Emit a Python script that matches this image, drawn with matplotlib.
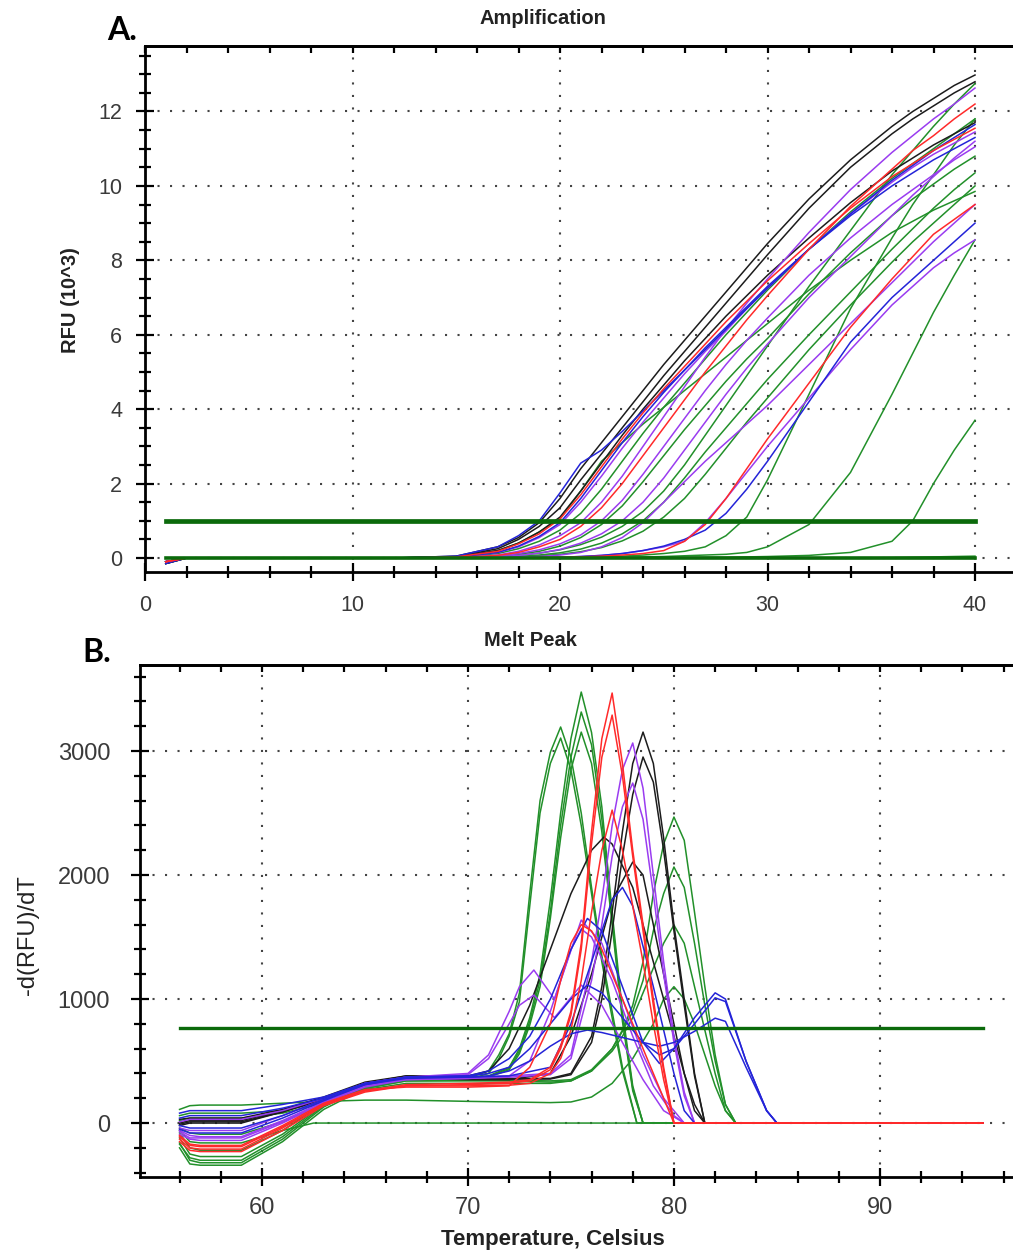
import matplotlib.pyplot as plt
from matplotlib.ticker import MultipleLocator

# ---------------- amplification (panel A) ----------------
amp_cycles = [1, 2, 12, 15, 17, 18, 19, 20, 21, 22, 23, 24, 25, 26, 27, 28, 29, 30, 32, 34, 36, 37, 38, 39, 40]

amp_black = [
    [-0.15, 0, 0, 0.05, 0.3, 0.55, 0.95, 1.6, 2.4, 3.1, 3.8, 4.5, 5.2, 5.85, 6.5, 7.15, 7.8, 8.45, 9.65, 10.7, 11.6, 12.0, 12.35, 12.7, 12.98],
    [-0.15, 0, 0, 0.04, 0.25, 0.5, 0.85, 1.35, 2.1, 2.8, 3.5, 4.2, 4.9, 5.55, 6.2, 6.85, 7.5, 8.15, 9.4, 10.5, 11.4, 11.8, 12.15, 12.5, 12.8],
    [-0.1, 0, 0, 0.03, 0.2, 0.4, 0.7, 1.1, 1.8, 2.55, 3.3, 4.0, 4.65, 5.3, 5.9, 6.5, 7.05, 7.6, 8.6, 9.55, 10.4, 10.75, 11.1, 11.4, 11.7],
]
amp_blue = [
    [-0.15, 0, 0, 0.05, 0.3, 0.6, 1.0, 1.75, 2.55, 2.9, 3.4, 3.95, 4.5, 5.05, 5.6, 6.15, 6.7, 7.25, 8.3, 9.25, 10.15, 10.55, 10.95, 11.3, 11.65],
    [-0.1, 0, 0, 0.02, 0.15, 0.32, 0.58, 0.95, 1.6, 2.35, 3.1, 3.8, 4.45, 5.05, 5.65, 6.2, 6.75, 7.3, 8.3, 9.2, 10.0, 10.35, 10.7, 11.0, 11.3],
    [-0.1, 0, 0, 0, 0, 0, 0.01, 0.02, 0.04, 0.07, 0.12, 0.2, 0.32, 0.5, 0.75, 1.2, 1.85, 2.6, 4.2, 5.8, 7.0, 7.5, 8.0, 8.5, 9.0],
]
amp_purple = [
    [-0.1, 0, 0, 0.02, 0.15, 0.3, 0.55, 0.9, 1.5, 2.2, 2.95, 3.65, 4.3, 4.95, 5.55, 6.1, 6.7, 7.25, 8.3, 9.25, 10.1, 10.5, 10.85, 11.15, 11.45],
    [-0.1, 0, 0, 0.01, 0.08, 0.18, 0.35, 0.6, 0.95, 1.5, 2.2, 3.0, 3.8, 4.6, 5.4, 6.15, 6.85, 7.5, 8.75, 9.9, 10.9, 11.35, 11.8, 12.2, 12.63],
    [-0.1, 0, 0, 0, 0.05, 0.12, 0.22, 0.38, 0.62, 1.0, 1.55, 2.25, 3.0, 3.75, 4.5, 5.2, 5.85, 6.45, 7.6, 8.6, 9.5, 9.9, 10.3, 10.7, 11.05],
    [-0.1, 0, 0, 0, 0.03, 0.07, 0.13, 0.23, 0.4, 0.65, 1.0, 1.5, 2.15, 2.9, 3.65, 4.4, 5.1, 5.75, 7.0, 8.1, 9.2, 9.75, 10.25, 10.75, 11.2],
    [-0.1, 0, 0, 0, 0.01, 0.02, 0.04, 0.08, 0.15, 0.3, 0.55, 0.95, 1.5, 2.05, 2.6, 3.1, 3.6, 4.1, 5.2, 6.3, 7.4, 7.95, 8.5, 9.0, 9.5],
    [-0.1, 0, 0, 0, 0, 0, 0.01, 0.02, 0.04, 0.07, 0.12, 0.2, 0.3, 0.45, 0.95, 1.6, 2.3, 3.0, 4.3, 5.6, 6.8, 7.3, 7.8, 8.2, 8.55],
]
amp_red = [
    [-0.1, 0, 0, 0.03, 0.18, 0.38, 0.65, 1.05, 1.7, 2.45, 3.2, 3.9, 4.55, 5.15, 5.75, 6.35, 6.9, 7.45, 8.45, 9.4, 10.25, 10.6, 10.95, 11.25, 11.55],
    [-0.1, 0, 0, 0.01, 0.07, 0.15, 0.3, 0.5, 0.85, 1.35, 2.0, 2.75, 3.5, 4.25, 5.0, 5.7, 6.4, 7.05, 8.3, 9.45, 10.45, 10.95, 11.35, 11.8, 12.2],
    [-0.1, 0, 0, 0, 0, 0, 0.01, 0.02, 0.03, 0.05, 0.08, 0.12, 0.2, 0.45, 0.9, 1.6, 2.4, 3.2, 4.7, 6.2, 7.5, 8.1, 8.7, 9.1, 9.5],
]
amp_green = [
    [-0.1, 0, 0, 0.03, 0.2, 0.4, 0.7, 1.05, 1.8, 2.6, 3.1, 3.6, 4.05, 4.5, 4.95, 5.4, 5.85, 6.3, 7.2, 8.0, 8.75, 9.05, 9.35, 9.6, 9.85],
    [-0.1, 0, 0, 0.02, 0.12, 0.25, 0.45, 0.75, 1.2, 1.85, 2.6, 3.35, 4.05, 4.7, 5.35, 6.0, 6.6, 7.2, 8.3, 9.3, 10.2, 10.6, 11.0, 11.4, 11.8],
    [-0.1, 0, 0, 0, 0.04, 0.1, 0.18, 0.32, 0.55, 0.9, 1.4, 2.05, 2.75, 3.45, 4.1, 4.75, 5.35, 5.9, 7.1, 8.2, 9.2, 9.65, 10.05, 10.45, 10.8],
    [-0.1, 0, 0, 0, 0.03, 0.07, 0.13, 0.22, 0.36, 0.56, 0.85, 1.25, 1.8, 2.5, 3.3, 4.1, 4.9, 5.7, 7.3, 8.8, 10.3, 10.95, 11.6, 12.2, 12.75],
    [-0.1, 0, 0, 0, 0.02, 0.04, 0.08, 0.14, 0.24, 0.4, 0.65, 1.0, 1.5, 2.15, 2.85, 3.5, 4.15, 4.8, 6.0, 7.15, 8.3, 8.85, 9.4, 9.9, 10.35],
    [-0.1, 0, 0, 0, 0.01, 0.03, 0.06, 0.1, 0.17, 0.28, 0.46, 0.72, 1.1, 1.6, 2.25, 2.95, 3.65, 4.3, 5.6, 6.8, 7.95, 8.5, 9.0, 9.5, 10.0],
    [-0.1, 0, 0, 0, 0, 0, 0, 0.01, 0.02, 0.03, 0.05, 0.08, 0.12, 0.18, 0.3, 0.6, 1.1, 2.1, 4.4, 6.7, 8.6, 9.5, 10.3, 11.1, 11.8],
    [-0.1, 0, 0, 0, 0, 0, 0, 0, 0, 0.01, 0.02, 0.03, 0.04, 0.06, 0.08, 0.1, 0.15, 0.3, 0.9, 2.3, 4.4, 5.5, 6.6, 7.6, 8.55],
    [-0.1, 0, 0, 0, 0, 0, 0, 0, 0, 0, 0, 0, 0.01, 0.01, 0.02, 0.02, 0.03, 0.04, 0.07, 0.15, 0.45, 1.0, 2.0, 2.9, 3.7],
    [-0.15, 0, 0, 0, 0, 0, 0, 0, 0, 0, 0, 0, 0, 0, 0, 0, 0, 0, 0, 0, 0.01, 0.02, 0.03, 0.04, 0.05],
]
amp_threshold = 1.0

# ---------------- melt peak (panel B) ----------------
# each curve: (temperatures, -d(RFU)/dT)
melt_green = [
    ([56, 56.5, 57, 59, 61, 63, 65, 67, 70, 71, 72, 72.5, 73, 73.5, 74, 74.5, 75, 75.5, 76, 76.5, 77, 77.5, 78, 78.5, 95],
     [-120, -250, -270, -270, -90, 150, 300, 360, 360, 380, 450, 600, 850, 1200, 1800, 2500, 3100, 3476, 3150, 2550, 1700, 900, 300, 0, 0]),
    ([56, 56.5, 57, 59, 61, 63, 65, 67, 70, 71, 72, 72.5, 73, 73.5, 74, 74.5, 75, 75.5, 76, 76.5, 77, 77.5, 78, 78.5, 95],
     [-160, -300, -320, -320, -130, 130, 290, 350, 350, 375, 440, 580, 820, 1150, 1700, 2400, 2950, 3315, 3050, 2450, 1650, 850, 280, 0, 0]),
    ([56, 56.5, 57, 59, 61, 63, 65, 67, 70, 71, 72, 72.5, 73, 73.5, 74, 74.5, 75, 75.5, 76, 76.5, 77, 77.5, 78, 78.5, 95],
     [-80, -200, -220, -220, -60, 160, 300, 360, 355, 370, 430, 560, 790, 1100, 1650, 2300, 2850, 3153, 2900, 2350, 1600, 820, 260, 0, 0]),
    ([56, 56.5, 57, 59, 61, 63, 65, 67, 70, 71, 71.5, 72, 72.5, 73, 73.5, 74, 74.5, 75, 75.5, 76, 76.5, 77, 77.5, 78.2, 95],
     [-200, -330, -340, -340, -150, 110, 280, 350, 360, 420, 550, 720, 1050, 1850, 2600, 2990, 3194, 2950, 2500, 1900, 1350, 900, 450, 0, 0]),
    ([56, 56.5, 57, 59, 61, 63, 65, 67, 70, 71, 71.5, 72, 72.5, 73, 73.5, 74, 74.5, 75, 75.5, 76, 76.5, 77, 77.5, 78.2, 95],
     [-170, -280, -300, -300, -110, 140, 290, 350, 350, 400, 520, 700, 980, 1750, 2500, 2900, 3105, 2850, 2400, 1850, 1300, 850, 420, 0, 0]),
    ([56, 56.5, 57, 59, 61, 63, 65, 67, 70, 72, 74, 75, 76, 77, 77.5, 78, 78.5, 79, 79.5, 80, 80.5, 81, 81.5, 82, 82.5, 83, 95],
     [60, 80, 80, 80, 100, 170, 280, 340, 340, 340, 330, 340, 420, 600, 750, 950, 1300, 1850, 2250, 2468, 2280, 1700, 1100, 550, 150, 0, 0]),
    ([56, 56.5, 57, 59, 61, 63, 65, 67, 70, 72, 74, 75, 76, 77, 77.5, 78, 78.5, 79, 79.5, 80, 80.5, 81, 81.5, 82, 82.5, 83, 95],
     [20, 40, 40, 40, 80, 160, 280, 340, 345, 345, 340, 350, 430, 600, 740, 900, 1150, 1550, 1850, 2065, 1900, 1450, 950, 500, 150, 0, 0]),
    ([56, 56.5, 57, 59, 61, 63, 65, 67, 70, 72, 74, 75, 76, 77, 77.5, 78, 78.5, 79, 79.5, 80, 80.5, 81, 81.5, 82, 82.5, 83, 95],
     [-40, -80, -90, -90, 10, 150, 270, 320, 320, 320, 320, 340, 420, 580, 700, 850, 1050, 1250, 1450, 1597, 1450, 1100, 750, 400, 100, 0, 0]),
    ([56, 56.5, 57, 59, 61, 63, 65, 67, 70, 72, 74, 75, 76, 77, 78, 79, 79.5, 80, 80.5, 81, 81.5, 82, 82.5, 83, 95],
     [110, 140, 145, 145, 160, 175, 185, 185, 175, 170, 165, 170, 210, 320, 520, 800, 1000, 1100, 1000, 800, 550, 300, 100, 0, 0]),
    ([56, 56.5, 57, 59, 61, 62.5, 95],
     [-60, -150, -160, -160, -60, 0, 0]),
]
melt_black = [
    ([56, 56.5, 57, 59, 61, 63, 65, 67, 70, 72, 74, 75, 76, 76.5, 77, 77.5, 78, 78.5, 79, 79.5, 80, 80.5, 81, 81.5, 95],
     [0, 20, 20, 20, 100, 200, 320, 380, 370, 360, 360, 400, 700, 1100, 1700, 2350, 2900, 3153, 2900, 2300, 1600, 1000, 400, 0, 0]),
    ([56, 56.5, 57, 59, 61, 63, 65, 67, 70, 72, 74, 75, 76, 76.5, 77, 77.5, 78, 78.5, 79, 79.5, 80, 80.5, 81, 81.5, 95],
     [-20, 0, 0, 0, 90, 200, 320, 370, 360, 355, 355, 390, 650, 1000, 1550, 2150, 2650, 2952, 2750, 2200, 1550, 950, 380, 0, 0]),
    ([56, 56.5, 57, 59, 61, 63, 65, 67, 70, 71, 72, 73, 74, 75, 76, 76.6, 77, 78, 79, 80, 80.5, 81, 81.5, 95],
     [30, 40, 40, 40, 110, 210, 330, 380, 380, 420, 600, 950, 1400, 1850, 2200, 2306, 2250, 1900, 1300, 700, 400, 150, 0, 0]),
    ([56, 56.5, 57, 59, 61, 63, 65, 67, 70, 72, 74, 75, 76, 77, 78, 78.5, 79, 80, 80.5, 81, 81.5, 95],
     [-10, 10, 10, 10, 90, 190, 310, 360, 350, 350, 400, 700, 1200, 1800, 2105, 2000, 1600, 800, 400, 100, 0, 0]),
]
melt_purple = [
    ([56, 56.5, 57, 59, 61, 63, 65, 67, 70, 72, 74, 75, 76, 76.5, 77, 77.5, 78, 78.5, 79, 79.5, 80, 80.5, 81, 95],
     [-60, -100, -110, -110, 20, 170, 300, 360, 370, 380, 400, 550, 1300, 1800, 2400, 2850, 3065, 2700, 2000, 1300, 700, 250, 0, 0]),
    ([56, 56.5, 57, 59, 61, 63, 65, 67, 70, 72, 74, 75, 76, 76.5, 77, 77.5, 78, 78.5, 79, 79.5, 80, 80.5, 81, 95],
     [-90, -130, -140, -140, 0, 160, 290, 350, 360, 370, 390, 520, 1150, 1600, 2150, 2550, 2742, 2450, 1850, 1200, 650, 220, 0, 0]),
    ([56, 56.5, 57, 59, 61, 63, 65, 67, 70, 71, 72, 72.5, 73.2, 74.2, 75.5, 76.5, 77.5, 78.5, 79.5, 80.5, 95],
     [-40, -60, -60, -60, 60, 190, 320, 370, 400, 550, 900, 1100, 1234, 1000, 1637, 1450, 1000, 550, 200, 0, 0]),
    ([56, 56.5, 57, 59, 61, 63, 65, 67, 70, 71, 72, 72.5, 73.2, 74.2, 75.5, 76.5, 77.5, 78.5, 79.5, 80.5, 95],
     [10, 30, 30, 30, 100, 200, 320, 370, 390, 520, 800, 950, 1032, 850, 1113, 950, 650, 350, 100, 0, 0]),
    ([56, 56.5, 57, 59, 61, 63, 65, 67, 70, 72, 73, 74, 75, 75.5, 76, 77, 78, 79, 80, 80.5, 95],
     [-70, -120, -120, -120, 10, 170, 300, 350, 360, 380, 500, 900, 1400, 1565, 1500, 1150, 700, 300, 60, 0, 0]),
]
melt_blue = [
    ([56, 56.5, 57, 59, 61, 63, 65, 67, 70, 71, 72, 73, 74, 75, 75.8, 76.5, 77.5, 78.5, 79.3, 80, 81, 82, 82.5, 83.5, 84.5, 85, 95],
     [-50, -80, -80, -80, 40, 180, 310, 370, 380, 420, 520, 700, 1000, 1400, 1650, 1550, 1100, 650, 480, 600, 850, 1050, 1000, 500, 100, 0, 0]),
    ([56, 56.5, 57, 59, 61, 63, 65, 67, 70, 71, 72, 73, 74, 75, 75.8, 76.5, 77.5, 78.5, 79.3, 80, 81, 82, 82.5, 83.5, 84.5, 85, 95],
     [80, 100, 100, 100, 150, 210, 320, 370, 380, 400, 450, 600, 800, 1000, 1113, 1050, 850, 650, 550, 600, 800, 1010, 980, 500, 100, 0, 0]),
    ([56, 56.5, 57, 59, 61, 63, 65, 67, 70, 71, 72, 73, 74, 75, 75.8, 76.5, 77.5, 78.5, 79.3, 80, 81, 82, 82.5, 83.5, 84.5, 85, 95],
     [-20, -40, -40, -40, 60, 190, 310, 360, 370, 380, 420, 500, 620, 720, 750, 730, 690, 650, 620, 650, 740, 846, 820, 450, 100, 0, 0]),
    ([56, 56.5, 57, 59, 61, 63, 65, 67, 70, 72, 74, 75, 76, 77, 77.5, 78, 79, 80, 80.5, 81, 95],
     [40, 60, 60, 60, 120, 200, 320, 370, 370, 380, 450, 800, 1300, 1800, 1900, 1750, 1100, 400, 100, 0, 0]),
]
melt_red = [
    ([56, 56.5, 57, 59, 61, 63, 65, 67, 70, 72, 73, 74, 74.5, 75, 75.5, 76, 76.5, 77, 77.5, 78, 78.5, 79, 79.5, 80, 95],
     [-130, -200, -210, -210, -40, 150, 260, 310, 320, 330, 350, 450, 620, 900, 1450, 2350, 3100, 3468, 2900, 2200, 1600, 1000, 450, 0, 0]),
    ([56, 56.5, 57, 59, 61, 63, 65, 67, 70, 72, 73, 74, 74.5, 75, 75.5, 76, 76.5, 77, 77.5, 78, 78.5, 79, 79.5, 80, 95],
     [-150, -220, -230, -230, -60, 140, 250, 300, 310, 320, 340, 430, 600, 870, 1400, 2250, 2950, 3290, 2800, 2150, 1550, 950, 420, 0, 0]),
    ([56, 56.5, 57, 59, 61, 63, 65, 67, 70, 72, 73, 74, 74.5, 75, 75.5, 76, 76.5, 77, 77.5, 78, 78.5, 79, 79.5, 80, 95],
     [-110, -180, -190, -190, -30, 150, 260, 300, 300, 305, 320, 400, 520, 750, 1150, 1700, 2200, 2524, 2200, 1750, 1300, 800, 350, 0, 0]),
    ([56, 56.5, 57, 59, 61, 63, 65, 67, 70, 72, 73, 74, 74.5, 75, 75.5, 76, 76.5, 77, 78, 79, 80, 95],
     [-100, -170, -180, -180, -20, 160, 270, 290, 290, 300, 450, 800, 1150, 1450, 1600, 1550, 1400, 1200, 800, 400, 0, 0]),
]
melt_threshold = 770

GREEN = '#22902a'
BLACK = '#1c1c1c'
PURPLE = '#9a3cf0'
BLUE = '#2424d8'
RED = '#ff2a2a'
THR = '#0b6a0b'
TICKCOL = '#3a3a3a'

plt.rcParams['font.family'] = ['Liberation Sans', 'DejaVu Sans']

fig = plt.figure(figsize=(10.13, 12.54), dpi=100)
W, H = 1013, 1254
axA = fig.add_axes([145 / W, 1 - 572 / H, 868 / W, (572 - 46) / H])
axB = fig.add_axes([140 / W, 1 - 1177 / H, 873 / W, (1177 - 665) / H])


def style(ax, xmaj, xmin, ymaj, ymin, fs, xpad, ypad):
    ax.xaxis.set_major_locator(MultipleLocator(xmaj))
    ax.xaxis.set_minor_locator(MultipleLocator(xmin))
    ax.yaxis.set_major_locator(MultipleLocator(ymaj))
    ax.yaxis.set_minor_locator(MultipleLocator(ymin))
    ax.tick_params(which='major', direction='inout', length=13, width=1.6,
                   labelsize=fs, labelcolor=TICKCOL)
    ax.tick_params(axis='x', which='major', pad=xpad)
    ax.tick_params(axis='y', which='major', pad=ypad)
    ax.tick_params(which='minor', direction='inout', length=8, width=1.6)
    ax.spines['right'].set_visible(False)
    for s in ['left', 'bottom', 'top']:
        ax.spines[s].set_linewidth(2)
    ax.grid(which='major', linestyle=(0, (1, 5)), linewidth=1.5, color='#444444')
    top = ax.secondary_xaxis('top')
    top.xaxis.set_major_locator(MultipleLocator(xmin))
    top.tick_params(direction='in', length=5, width=1.6, labeltop=False)
    top.spines['top'].set_linewidth(2)


# panel A
groups_A = [(amp_green, GREEN), (amp_black, BLACK), (amp_purple, PURPLE),
            (amp_blue, BLUE), (amp_red, RED)]
for curves, col in groups_A:
    for vals in curves:
        axA.plot(amp_cycles, vals, color=col, lw=1.1)
axA.plot([1, 40], [0, 0], color=THR, lw=2.6)
axA.plot([1, 40], [amp_threshold, amp_threshold], color=THR, lw=3.4)
axA.set_xlim(0, (W - 145) / 20.75)
axA.set_ylim(-0.376, 13.76)
style(axA, 10, 2, 2, 0.5, 15.5, 10, 10)

# panel B
groups_B = [(melt_green, GREEN), (melt_black, BLACK), (melt_purple, PURPLE),
            (melt_blue, BLUE), (melt_red, RED)]
for curves, col in groups_B:
    for temps, vals in curves:
        axB.plot(temps, vals, color=col, lw=1.1)
axB.plot([56, 95], [melt_threshold, melt_threshold], color=THR, lw=2.4)
axB.set_xlim(54.08, 96.46)
axB.set_ylim(-435, 3694)
style(axB, 10, 2, 1000, 200, 17, 8, 15)

# texts
fig.text(543 / W, 1 - 19 / H, 'Amplification', ha='center', va='center',
         fontsize=14.5, fontweight='bold', color='#222222')
fig.text(530 / W, 1 - 640 / H, 'Melt Peak', ha='center', va='center',
         fontsize=14.5, fontweight='bold', color='#222222')
fig.text(70 / W, 1 - 300 / H, 'RFU (10^3)', ha='center', va='center',
         rotation=90, fontsize=14.5, fontweight='bold', color='#222222')
fig.text(28 / W, 1 - 935 / H, '-d(RFU)/dT', ha='center', va='center',
         rotation=90, fontsize=17, color='#222222')
fig.text(553 / W, 1 - 1240 / H, 'Temperature, Celsius', ha='center', va='center',
         fontsize=16, fontweight='bold', color='#222222')
fig.text(122 / W, 1 - 30 / H, 'A.', ha='center', va='center',
         fontsize=23, fontweight='bold', family=['Lato', 'DejaVu Sans'])
fig.text(97 / W, 1 - 652 / H, 'B.', ha='center', va='center',
         fontsize=23, fontweight='bold', family=['Lato', 'DejaVu Sans'])

fig.savefig('out.png', dpi=100)
